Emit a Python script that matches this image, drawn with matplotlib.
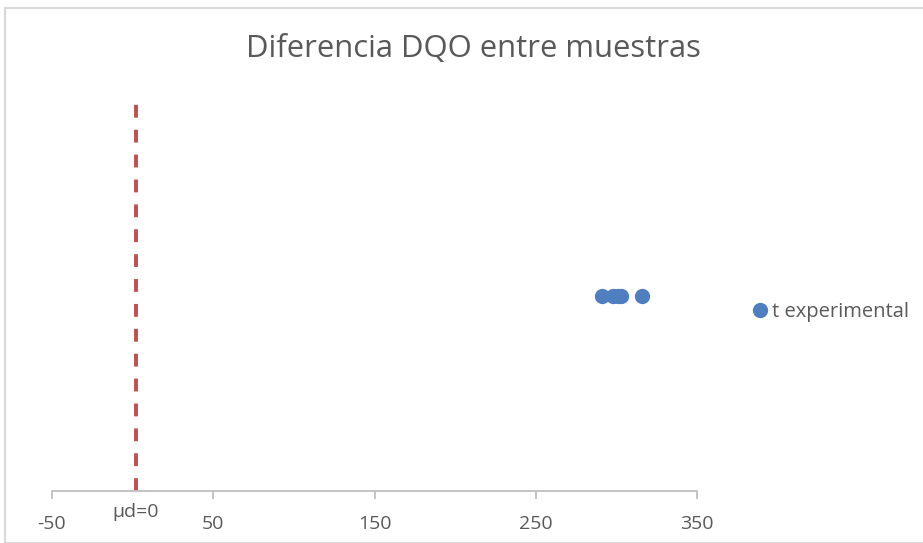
import matplotlib
matplotlib.use("Agg")
import matplotlib.pyplot as plt
from matplotlib.patches import Rectangle

# Data
t_values = [291, 298, 301, 303, 316]
y_level = [1, 1, 1, 1, 1]
mu_d = 2
x_ticks = [-50, 50, 150, 250, 350]
title = "Diferencia DQO entre muestras"
series_label = "t experimental"
mu_label = "μd=0"

plt.rcParams['font.family'] = ['Open Sans', 'DejaVu Sans']

fig = plt.figure(figsize=(9.23, 5.43), dpi=100)
ax = fig.add_axes([52/923, 1-491/543, (697-52)/923, (491-101)/543])

ax.plot([mu_d, mu_d], [0, 2], linestyle=(0, (3.3, 3.1)), color='#C0504D', lw=2.8, zorder=2)
ax.plot(t_values, y_level, linestyle='none', marker='o', markersize=10,
        color='#4F7FC0', label=series_label, zorder=3)

ax.set_xlim(-50, 350)
ax.set_ylim(0, 2)
ax.set_xticks(x_ticks)
ax.set_xticklabels([str(v) for v in x_ticks], fontsize=14, color='#595959')
ax.tick_params(axis='x', direction='out', length=6, width=1.3, color='#BFBFBF', pad=11.5)
ax.set_yticks([])
for s in ['top', 'right', 'left']:
    ax.spines[s].set_visible(False)
ax.spines['bottom'].set_color('#BFBFBF')
ax.spines['bottom'].set_linewidth(1.3)

ax.text(mu_d, -0.03, mu_label, transform=ax.get_xaxis_transform(), ha='center', va='top',
        fontsize=14, color='#595959')

fig.text(473/923, 1-49/543, title, ha='center', va='center', fontsize=22.3, color='#595959')

leg = fig.legend(loc='center left', bbox_to_anchor=(750/923, 1-312/543), frameon=False,
                 fontsize=14.5, handletextpad=0.1, handlelength=1.0, borderpad=0, borderaxespad=0)
for t in leg.get_texts():
    t.set_color('#595959')

fig.patches.append(Rectangle((5/923, 0), 1, 1-8/543, transform=fig.transFigure,
                             fill=False, edgecolor='#D9D9D9', lw=1.5))

fig.savefig('out.png', dpi=100)
